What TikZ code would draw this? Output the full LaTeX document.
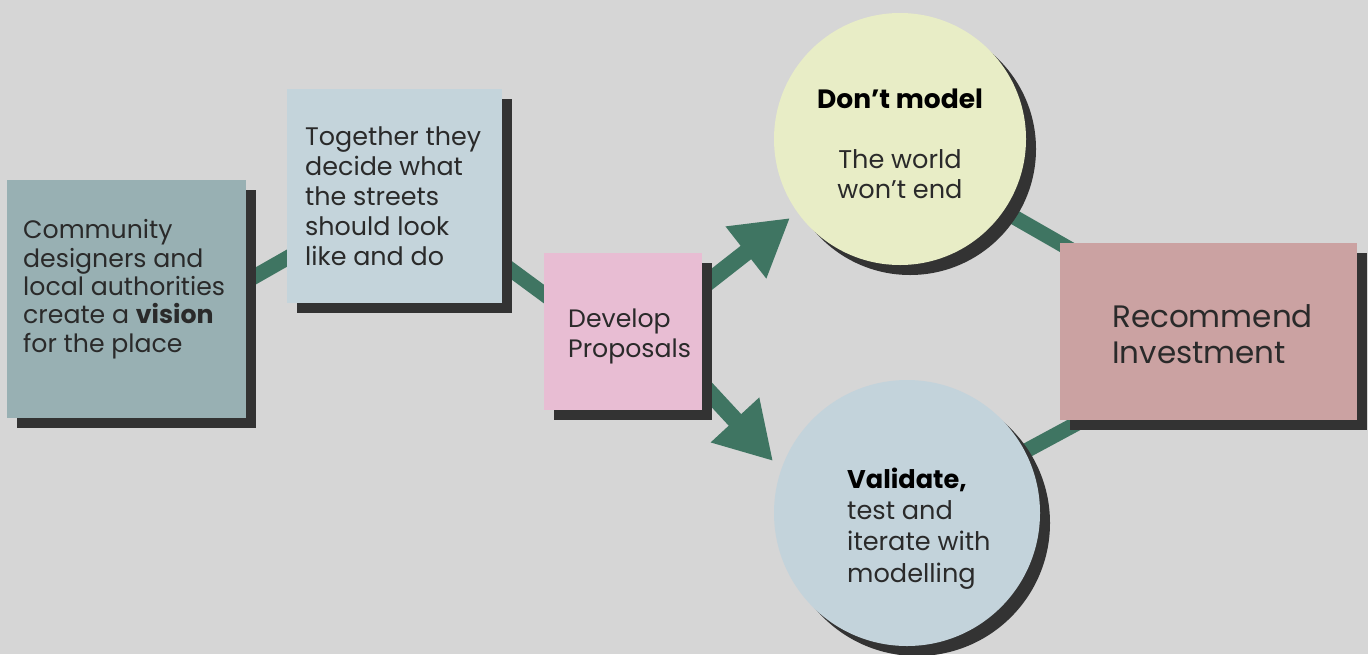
\documentclass[tikz,border=0pt]{standalone}
\usepackage{fontspec}
\setmainfont{Poppins}
\usetikzlibrary{shadows,arrows.meta}

\definecolor{bgc}{HTML}{D6D6D6}
\definecolor{shadowc}{HTML}{333333}
\definecolor{linkc}{HTML}{3F7562}
\definecolor{inkc}{HTML}{2A2A2A}
\definecolor{visionc}{HTML}{98B0B3}
\definecolor{streetc}{HTML}{C4D4DB}
\definecolor{proposalc}{HTML}{E8BDD3}
\definecolor{skipc}{HTML}{E8EDC6}
\definecolor{validc}{HTML}{C3D3DB}
\definecolor{investc}{HTML}{CBA2A2}

\tikzset{
  panel/.style={rectangle, inner sep=0pt, draw=none,
    general shadow={shadow xshift=10pt, shadow yshift=-10pt, fill=shadowc}},
  disc/.style={circle, inner sep=0pt, draw=none,
    general shadow={shadow xshift=10pt, shadow yshift=-10pt, fill=shadowc}},
  link/.style={draw=linkc, line width=15pt},
  bigarrow/.style={draw=linkc, fill=linkc, line width=17pt,
    -{Triangle[width=62pt,length=56pt]}},
  label/.style={inner sep=0pt, text=inkc, font=\fontsize{25.2}{28.3}\selectfont, align=left},
}

\begin{document}
\begin{tikzpicture}[x=1pt,y=-1pt]
  \useasboundingbox (0,0) rectangle (1368,654);
  \fill[bgc] (0,0) rectangle (1368,654);

  % end points of the links between the steps
  \coordinate (l1a) at (238,286);
  \coordinate (l1b) at (296,253);
  \coordinate (l2a) at (495,258);
  \coordinate (l2b) at (552,300);
  \coordinate (l3a) at (1000,209);
  \coordinate (l3b) at (1075,252);
  \coordinate (l4a) at (1020,454);
  \coordinate (l4b) at (1085,419);
  % arrows out of the proposals box
  \coordinate (upstart) at (698,290);
  \coordinate (uptip) at (790,218);
  \coordinate (dnstart) at (698,380);
  \coordinate (dntip) at (773,461);

  \draw[link] (l1a) -- (l1b);
  \draw[link] (l2a) -- (l2b);
  \draw[link] (l3a) -- (l3b);
  \draw[link] (l4a) -- (l4b);
  \draw[bigarrow] (upstart) -- (uptip);
  \draw[bigarrow] (dnstart) -- (dntip);

  % steps
  \node[panel, fill=visionc, minimum width=239pt, minimum height=238pt] (vision) at (126.5,299) {};
  \node[panel, fill=streetc, minimum width=215pt, minimum height=214pt] (streets) at (394.5,196) {};
  \node[panel, fill=proposalc, minimum width=158pt, minimum height=157pt] (proposals) at (623,331.5) {};
  \node[disc, fill=skipc, minimum size=252pt] (skip) at (900,139) {};
  \node[disc, fill=validc, minimum size=266pt] (valid) at (907,513) {};
  \node[panel, fill=investc, minimum width=297pt, minimum height=177pt] (invest) at (1208.5,331.5) {};

  % texts (each placed by the baseline of its last line)
  \node[label, anchor=base west] (visiontxt) at (23,352)
    {Community\\designers and\\local authorities\\create a \textbf{vision}\\for the place};
  \node[label, anchor=base west, font=\fontsize{25.4}{30}\selectfont] (streetstxt) at (305,265)
    {Together they\\decide what\\the streets\\should look\\like and do};
  \node[label, anchor=base west, font=\fontsize{25.2}{30}\selectfont] (proposalstxt) at (568,357)
    {Develop\\Proposals};
  \node[label, anchor=base, font=\fontsize{26.5}{30}\selectfont\bfseries, text=black] (skiphead) at (900,108)
    {Don’t model};
  \node[label, anchor=base, align=center, font=\fontsize{25.6}{30}\selectfont] (skiptxt) at (900,198)
    {The world\\won’t end};
  \node[label, anchor=base west, font=\fontsize{25.6}{31.3}\selectfont] (validtxt) at (847,582)
    {\textcolor{black}{\textbf{Validate,}}\\test and\\iterate with\\modelling};
  \node[label, anchor=base west, font=\fontsize{31}{36}\selectfont] (investtxt) at (1112,363)
    {Recommend\\Investment};
\end{tikzpicture}
\end{document}
